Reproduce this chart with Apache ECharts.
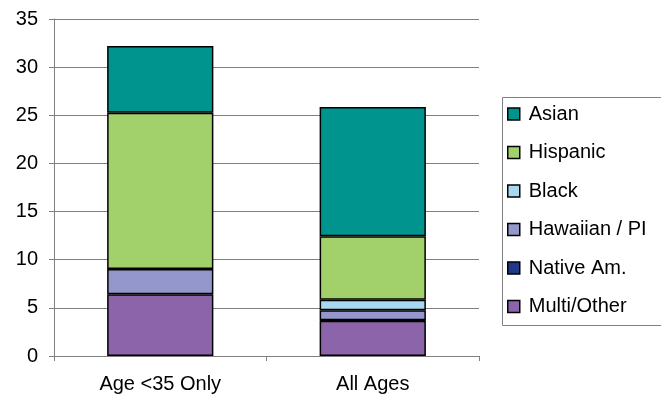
<!DOCTYPE html>
<html>
<head>
<meta charset="utf-8">
<script src="https://cdn.jsdelivr.net/npm/echarts@6/dist/echarts.min.js"></script>
<style>html,body{margin:0;padding:0;background:#fff}#c{width:661px;height:402px}</style>
</head>
<body>
<div id="c"></div>
<script>
const categories = ['Age <35 Only', 'All Ages'];
const seriesNames = ['Multi/Other', 'Native Am.', 'Hawaiian / PI', 'Black', 'Hispanic', 'Asian'];
const multiOther = [6.41, 3.67];
const nativeAm = [0, 0.05];
const hawaiianPI = [2.62, 1.03];
const black = [0, 1.08];
const hispanic = [16.24, 6.6];
const asian = [6.92, 13.44];
const yTicks = [0, 5, 10, 15, 20, 25, 30, 35];

const colors = ['#8C64AA', '#1F3A8A', '#9497CB', '#A8D8F0', '#A2D06A', '#00948F'];
const values = [multiOther, nativeAm, hawaiianPI, black, hispanic, asian];
const font = 'Liberation Sans, Arial, sans-serif';

const chart = echarts.init(document.getElementById('c'), null, {renderer: 'canvas'});
chart.setOption({
  animation: false,
  backgroundColor: '#fff',
  grid: {left: 54, top: 19, right: 182, bottom: 46, containLabel: false},
  xAxis: {
    type: 'category',
    data: categories,
    axisLine: {lineStyle: {color: '#808080', width: 1}},
    axisTick: {show: true, length: 5, lineStyle: {color: '#808080'}},
    axisLabel: {fontFamily: font, fontSize: 20, color: '#000', margin: 18}
  },
  yAxis: {
    type: 'value',
    min: yTicks[0], max: yTicks[yTicks.length - 1], interval: 5,
    axisLine: {show: true, lineStyle: {color: '#808080', width: 1}},
    axisTick: {show: true, length: 5, lineStyle: {color: '#808080'}},
    splitLine: {show: true, lineStyle: {color: '#808080', width: 1}},
    axisLabel: {fontFamily: font, fontSize: 20, color: '#000', margin: 16}
  },
  legend: {
    orient: 'vertical',
    left: 507, top: 104,
    padding: 0,
    itemGap: 18.5,
    itemWidth: 12, itemHeight: 12,
    icon: 'rect',
    data: seriesNames.slice().reverse(),
    itemStyle: {borderColor: '#000', borderWidth: 1.5},
    textStyle: {fontFamily: font, fontSize: 20, color: '#000', padding: [0, 0, 0, 4]}
  },
  graphic: [{
    type: 'rect',
    left: 500, top: 95,
    shape: {width: 159, height: 228},
    style: {fill: 'none', stroke: '#808080', lineWidth: 1},
    z: -1
  }],
  series: seriesNames.map((n, i) => ({
    name: n,
    type: 'bar',
    stack: 'total',
    barWidth: '50%',
    data: values[i].map(v => (v === 0 ? '-' : v)),
    itemStyle: {color: colors[i], borderColor: '#000', borderWidth: 1.5}
  }))
});
</script>
</body>
</html>
